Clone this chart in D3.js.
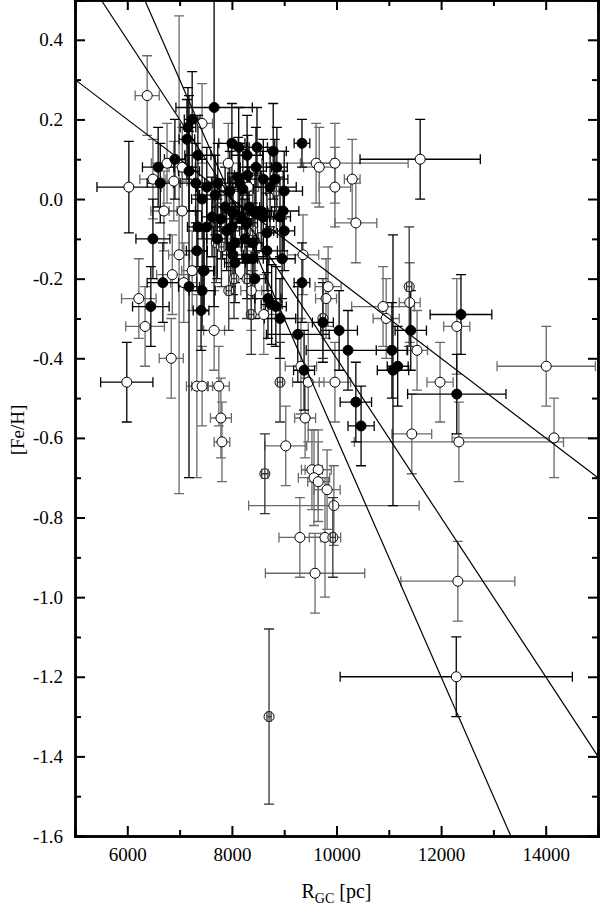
<!DOCTYPE html>
<html>
<head>
<meta charset="utf-8">
<script src="https://cdn.jsdelivr.net/npm/d3@7"></script>
<style>
  body { margin: 0; background: #fff; }
  svg text { font-family: "Liberation Serif", "Times New Roman", "DejaVu Serif", serif; }
</style>
</head>
<body>
<div id="chart"></div>
<script>
// [R_GC, [Fe/H], err R, err Fe/H]
var filledPts = [
  [7660,0.23,730,0.5],[7240,0.20,150,0.12],[7160,0.18,150,0.1],[7140,0.15,150,0.1],
  [8000,0.14,250,0.1],[8130,0.13,200,0.1],[8290,0.11,300,0.1],[8480,0.13,200,0.1],
  [8790,0.12,250,0.12],[9340,0.14,150,0.06],[6910,0.10,200,0.1],[7350,0.11,250,0.1],
  [6590,0.08,300,0.1],[7180,0.07,200,0.1],[6630,0.04,250,0.1],[7310,0.04,300,0.1],
  [7520,0.03,200,0.1],[7730,0.04,250,0.1],[8120,0.055,200,0.1],[8150,0.04,200,0.1],
  [8460,0.08,300,0.1],[8860,0.08,200,0.1],[8600,0.05,300,0.1],[8820,0.05,250,0.1],
  [9000,0.02,350,0.1],[7680,0.01,300,0.1],[8210,0.025,200,0.1],[8730,0.03,500,0.1],
  [7430,0.00,200,0.1],[7870,-0.02,250,0.1],[8980,-0.03,300,0.1],[8920,-0.045,200,0.1],
  [8020,-0.035,200,0.1],[8440,-0.035,250,0.1],[8600,-0.045,200,0.1],[7520,-0.07,250,0.1],
  [8190,-0.05,200,0.1],[8290,-0.06,200,0.1],[9000,-0.08,200,0.1],[8000,-0.07,300,0.1],
  [8670,-0.085,200,0.1],[8060,-0.11,250,0.1],[8400,-0.11,200,0.1],[8670,-0.13,200,0.1],
  [8020,-0.14,200,0.1],[8960,-0.15,250,0.1],[8290,-0.15,200,0.1],[8400,-0.15,200,0.1],
  [8060,-0.16,200,0.1],[7450,-0.18,200,0.1],[8440,-0.20,200,0.1],[9340,-0.21,150,0.1],
  [7430,-0.23,250,0.1],[8690,-0.25,250,0.1],[8760,-0.265,200,0.1],[8840,-0.27,200,0.1],
  [8920,-0.30,300,0.1],[7410,-0.28,150,0.1],[9740,-0.31,200,0.1],[10050,-0.33,350,0.1],
  [9260,-0.34,600,0.12],[10220,-0.38,800,0.1],[11060,-0.38,300,0.12],[11080,-0.43,300,0.34],
  [11170,-0.42,200,0.1],[9380,-0.43,200,0.1],[10370,-0.51,300,0.1],[10470,-0.57,250,0.1],
  [12380,-0.29,590,0.1],[11420,-0.33,300,0.1],[12300,-0.49,940,0.1],[6490,-0.10,325,0.1],
  [7330,-0.13,200,0.1],[7470,-0.18,200,0.1],[6680,-0.21,300,0.1],[7180,-0.22,200,0.48],
  [6450,-0.27,350,0.1],[7620,-0.045,200,0.1],[7790,-0.05,200,0.1],[7900,-0.08,250,0.1],
  [8330,-0.02,200,0.1],[7350,-0.07,200,0.1],[7720,-0.10,200,0.1],[8250,-0.10,250,0.1],
  [8560,-0.03,200,0.1],[7960,0.02,200,0.1],[8300,0.06,250,0.1],[7980,-0.12,200,0.1]
];

// open circles, grey error bars
var openPts = [
  [6380,0.26,230,0.1],[6340,-0.32,370,0.1],[6220,-0.25,330,0.1],[6840,-0.40,230,0.1],
  [6760,0.09,300,0.1],[7050,0.08,250,0.1],[7930,0.09,200,0.1],[6490,0.05,250,0.1],
  [6890,0.045,250,0.1],[8310,0.03,200,0.1],[7430,0.19,200,0.1],[6700,-0.03,250,0.1],
  [7050,-0.03,250,0.1],[6990,-0.14,200,0.6],[7240,-0.18,200,0.1],[6860,-0.19,300,0.1],
  [7080,-0.21,250,0.1],[7660,-0.33,200,0.1],[7330,-0.47,200,0.23],[7430,-0.47,200,0.1],
  [7750,-0.47,200,0.1],[7790,-0.55,200,0.1],[7810,-0.61,150,0.1],[8370,-0.23,200,0.1],
  [8610,-0.29,300,0.1],[9610,0.09,300,0.1],[9670,0.08,300,0.1],[9970,0.09,1400,0.1],
  [10300,0.05,150,0.1],[9970,0.03,300,0.1],[10370,-0.06,400,0.1],[9360,-0.14,300,0.1],
  [9840,-0.22,250,0.1],[9800,-0.25,200,0.1],[10890,-0.27,600,0.1],[10950,-0.30,250,0.1],
  [9320,-0.42,300,0.12],[9460,-0.46,300,0.15],[9970,-0.46,300,0.1],[9400,-0.55,200,0.1],
  [9030,-0.62,400,0.1],[9530,-0.68,200,0.1],[9650,-0.68,250,0.1],[9570,-0.70,300,0.12],
  [9650,-0.71,200,0.1],[9820,-0.73,250,0.1],[9950,-0.77,1630,0.1],[9300,-0.85,400,0.1],
  [9780,-0.85,300,0.15],[9590,-0.94,950,0.1],[12320,-0.96,1090,0.1],[11400,-0.26,200,0.1],
  [11540,-0.38,200,0.1],[12300,-0.32,250,0.12],[11980,-0.46,250,0.1],[14010,-0.42,940,0.1],
  [11440,-0.59,380,0.1],[12340,-0.61,2000,0.1],[14160,-0.60,1950,0.1]
];

// open circles, black error bars
var openBlackPts = [
  [11600,0.10,1150,0.1],[12290,-1.20,2220,0.1],[6030,0.03,610,0.115],[5990,-0.46,500,0.1]
];

// open circles with small R error (cross drawn over the circle)
var crossPts = [
  [8710,-1.30,40,0.22],[8630,-0.69,60,0.1],[7700,-0.11,50,0.1],[8040,-0.20,50,0.1],
  [8290,-0.20,50,0.1],[7940,-0.23,50,0.1],[8370,-0.29,50,0.1],[8920,-0.46,50,0.1],
  [9740,-0.30,50,0.1],[11390,-0.22,50,0.15],[9930,-0.85,50,0.1],[7800,-0.12,50,0.1],
  [8400,-0.08,50,0.1],[8850,0.02,50,0.1]
];

// fitted gradients, all through (8000, 0)
var fitLines = [
  [[5000,0.3],[15000,-0.7]],
  [[5500,0.5],[15000,-1.4]],
  [[6333,0.5],[13333,-1.6]]
];

var xMajor = [6000,8000,10000,12000,14000];
var xMinor = [5000,7000,9000,11000,13000,15000];
var yMajor = [-1.6,-1.4,-1.2,-1.0,-0.8,-0.6,-0.4,-0.2,0.0,0.2,0.4];
var yMinor = [-1.5,-1.3,-1.1,-0.9,-0.7,-0.5,-0.3,-0.1,0.1,0.3,0.5];

var width = 600, height = 910;
var pLeft = 75, pRight = 598, pTop = 0, pBottom = 836;
var serif = '"Liberation Serif", "Times New Roman", serif';

var svg = d3.select("#chart").append("svg")
    .attr("width", width)
    .attr("height", height);

var x = d3.scaleLinear().domain([5000,15000]).range([pLeft,pRight]);
var y = d3.scaleLinear().domain([-1.6,0.5]).range([pBottom,pTop]);

svg.append("clipPath").attr("id","plot")
  .append("rect").attr("x",pLeft).attr("y",pTop)
  .attr("width",pRight-pLeft).attr("height",pBottom-pTop);

var plot = svg.append("g").attr("clip-path","url(#plot)");

function drawBars(g, pts, color) {
  var cap = 5;
  pts.forEach(function(p) {
    var cx = x(p[0]), cy = y(p[1]);
    var x0 = x(p[0]-p[2]), x1 = x(p[0]+p[2]);
    var y0 = y(p[1]+p[3]), y1 = y(p[1]-p[3]);
    var path = "M"+x0+","+cy+"H"+x1 +
      "M"+x0+","+(cy-cap)+"V"+(cy+cap) +
      "M"+x1+","+(cy-cap)+"V"+(cy+cap) +
      "M"+cx+","+y0+"V"+y1 +
      "M"+(cx-cap)+","+y0+"H"+(cx+cap) +
      "M"+(cx-cap)+","+y1+"H"+(cx+cap);
    g.append("path").attr("d",path)
      .attr("fill","none").attr("stroke",color).attr("stroke-width",1.3);
  });
}

function drawDots(g, pts, fill) {
  g.selectAll(null).data(pts).enter().append("circle")
    .attr("cx", function(d){ return x(d[0]); })
    .attr("cy", function(d){ return y(d[1]); })
    .attr("r", 5)
    .attr("fill", fill)
    .attr("stroke", "#000")
    .attr("stroke-width", 1);
}

drawBars(plot, openPts, "#6a6a6a");
drawBars(plot, openBlackPts, "#000");
drawBars(plot, filledPts, "#000");
drawDots(plot, openPts, "#fff");
drawDots(plot, openBlackPts, "#fff");
drawDots(plot, crossPts, "#fff");
drawBars(plot, crossPts, "#333");
drawDots(plot, filledPts, "#000");

var line = d3.line().x(function(d){ return x(d[0]); }).y(function(d){ return y(d[1]); });
fitLines.forEach(function(l) {
  plot.append("path").attr("d", line(l))
    .attr("fill","none").attr("stroke","#000").attr("stroke-width",1.2);
});

// axes, ticks inward
function styleAxis(g, labels) {
  g.attr("font-family", serif).attr("font-size", 19);
  g.select(".domain").attr("stroke-width", 2.5);
  g.selectAll(".tick line").attr("stroke-width", 2);
  g.selectAll(".tick text").attr("font-size", 19).attr("font-family", serif).attr("fill", "#000");
  if (!labels) g.selectAll(".tick text").remove();
}

var fmt = function(d){ return d.toFixed(1); };

svg.append("g").attr("transform","translate(0,"+pBottom+")")
  .call(d3.axisBottom(x).tickValues(xMajor).tickSize(-10).tickPadding(12).tickFormat(d3.format("d")))
  .call(styleAxis, true);
svg.append("g").attr("transform","translate(0,"+pBottom+")")
  .call(d3.axisBottom(x).tickValues(xMinor).tickSize(-6).tickFormat(""))
  .call(styleAxis, false);
svg.append("g").attr("transform","translate(0,"+pTop+")")
  .call(d3.axisTop(x).tickValues(xMajor).tickSize(-10).tickFormat(""))
  .call(styleAxis, false);
svg.append("g").attr("transform","translate(0,"+pTop+")")
  .call(d3.axisTop(x).tickValues(xMinor).tickSize(-6).tickFormat(""))
  .call(styleAxis, false);

svg.append("g").attr("transform","translate("+pLeft+",0)")
  .call(d3.axisLeft(y).tickValues(yMajor).tickSize(-10).tickPadding(12).tickFormat(fmt))
  .call(styleAxis, true);
svg.append("g").attr("transform","translate("+pLeft+",0)")
  .call(d3.axisLeft(y).tickValues(yMinor).tickSize(-6).tickFormat(""))
  .call(styleAxis, false);
svg.append("g").attr("transform","translate("+pRight+",0)")
  .call(d3.axisRight(y).tickValues(yMajor).tickSize(-10).tickFormat(""))
  .call(styleAxis, false);
svg.append("g").attr("transform","translate("+pRight+",0)")
  .call(d3.axisRight(y).tickValues(yMinor).tickSize(-6).tickFormat(""))
  .call(styleAxis, false);

// axis titles
var xt = svg.append("text")
  .attr("x", (pLeft+pRight)/2).attr("y", 898)
  .attr("text-anchor","middle").attr("font-size",20).attr("font-family", serif);
xt.append("tspan").text("R");
xt.append("tspan").attr("font-size",14).attr("dy",5).text("GC");
xt.append("tspan").attr("dy",-5).text(" [pc]");

svg.append("text")
  .attr("transform","translate(24,430) rotate(-90)")
  .attr("text-anchor","middle").attr("font-size",19).attr("font-family", serif)
  .text("[Fe/H]");
</script>
</body>
</html>
